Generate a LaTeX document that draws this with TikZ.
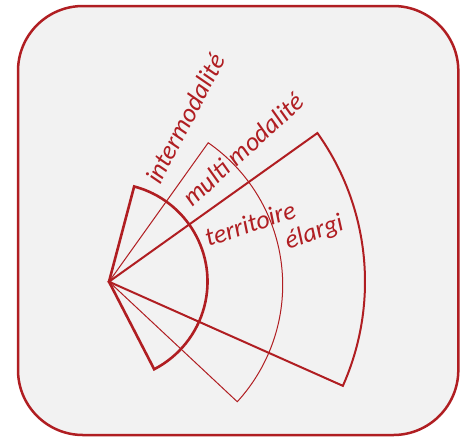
\documentclass[tikz,border=0pt]{standalone}
\usepackage{fontspec}
\setmainfont{Carlito}
\definecolor{dred}{RGB}{176,30,34}
\definecolor{bgray}{RGB}{242,242,242}
\begin{document}
\begin{tikzpicture}[x=1pt,y=1pt,
  lbl/.style={anchor=base west,inner sep=0pt,text=dred,font=\fontsize{26}{30}\selectfont\itshape},
  sect/.style={draw=dred,line join=miter}]
\useasboundingbox (0,0) rectangle (462,-437);
\draw[draw=dred,fill=bgray,line width=2.5pt,rounded corners=65pt] (18,-6) rectangle (458.3,-435);
\coordinate (C) at (109,-281.7);
\coordinate (O2) at (109.8,-284.9);
\draw[sect,line width=2.6pt] (C) -- ++(75.2:98.5) arc[start angle=75.2,end angle=-62.7,radius=98.5] -- cycle;
\draw[sect,line width=1pt] (C) -- ([shift={(55.3:172.9)}]O2) arc[start angle=55.3,end angle=-42.5,radius=172.9] -- cycle;
\draw[sect,line width=2pt] (C) -- ++(35.5:256) arc[start angle=35.5,end angle=-24,radius=256] -- cycle;
\node[lbl,rotate=62.5] (inter) at (160,-186) {intermodalité};
\node[lbl,rotate=42.4] (multi) at (192.2,-208) {multi modalité};
\node[lbl,rotate=18.5] (terr) at (208.3,-247) {territoire};
\node[lbl,rotate=19.5] (elar) at (288.3,-249.5) {élargi};
\end{tikzpicture}
\end{document}
